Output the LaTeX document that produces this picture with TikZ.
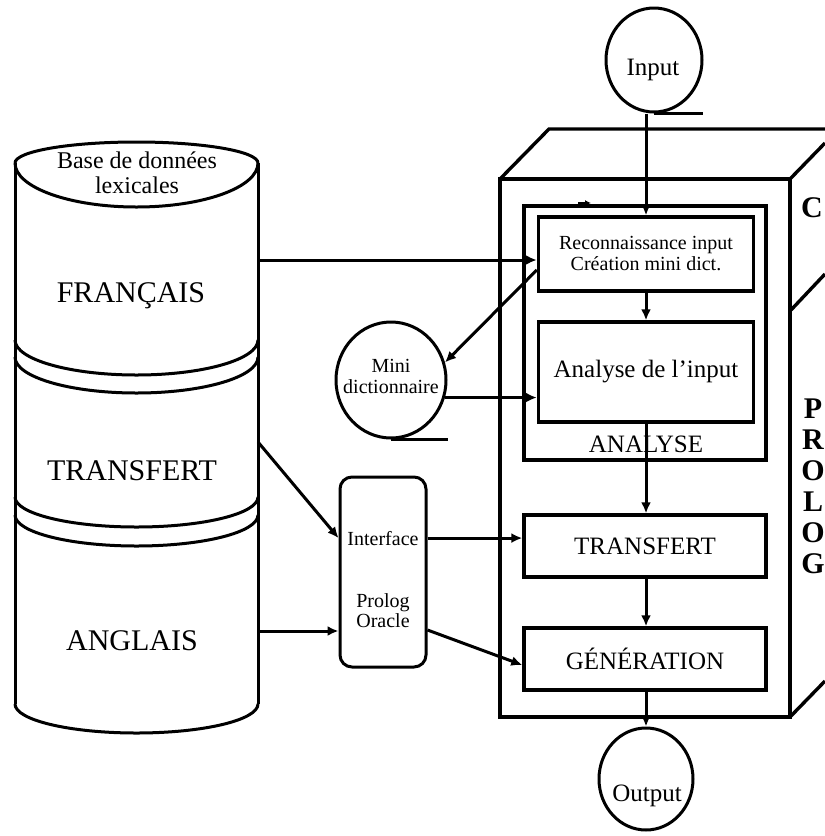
\documentclass[tikz,border=0pt]{standalone}
\usepackage{fontspec}
\setmainfont{Liberation Serif}
\usetikzlibrary{arrows.meta,shapes.geometric,calc}
\newcommand\fsz[2]{\fontsize{#1}{#2}\selectfont}
\tikzset{
  ln/.style={line width=3pt},
  arr/.style={line width=3pt,-{Latex[length=11pt,width=10pt]}},
  blk/.style={draw,line width=3.4pt,inner sep=0pt},
  circ/.style={draw,ellipse,line width=3pt,inner sep=0pt},
  txt/.style={inner sep=0pt},
}
\begin{document}
\begin{tikzpicture}[x=1pt,y=-1pt]
\useasboundingbox (0,0) rectangle (825,836);

% ---------- cylinder (lexical databases)
\draw[ln] (15,163) arc[start angle=180,end angle=360,x radius=121.5,y radius=21];
\draw[ln] (15,163) arc[start angle=180,end angle=0,x radius=121.5,y radius=44];
\draw[ln] (15,340) arc[start angle=180,end angle=0,x radius=121.5,y radius=35];
\draw[ln] (15,357) arc[start angle=180,end angle=0,x radius=121.5,y radius=36];
\draw[ln] (15,497) arc[start angle=180,end angle=0,x radius=121.5,y radius=30];
\draw[ln] (15,515) arc[start angle=180,end angle=0,x radius=121.5,y radius=31];
\draw[ln] (15,704) arc[start angle=180,end angle=0,x radius=121.5,y radius=29];
\draw[ln] (15,163) -- (15,704);
\draw[ln] (258,163) -- (258,704);
\node[txt,align=center,font=\fsz{24}{25}] (base) at (137,173) {Base de données\\lexicales};
\node[txt,anchor=base,font=\fsz{30}{31}] (fra) at (131,302) {FRANÇAIS};
\node[txt,anchor=base,font=\fsz{30}{31}] (trc) at (132,480) {TRANSFERT};
\node[txt,anchor=base,font=\fsz{30}{31}] (ang) at (132,650) {ANGLAIS};
\coordinate (fr) at (258,260);
\coordinate (tr) at (258,442);
\coordinate (an) at (258,631);

% ---------- 3D Prolog box
\draw[line width=3.4pt] (500,179) rectangle (790,717);
\draw[line width=3.4pt] (500,179) -- (549,129) -- (825,129);
\draw[line width=3.4pt] (790,179) -- (825,143);
\draw[line width=3.4pt] (791,310) -- (825,274);
\draw[line width=3.4pt] (790,717) -- (825,681);
\node[txt,anchor=base,font=\fsz{30}{31}\bfseries] (c) at (812,217) {C};
\node[txt,anchor=north,align=center,font=\fsz{30}{31}\bfseries] (prolog) at (813,399) {P\\R\\O\\L\\O\\G};

% ---------- ANALYSE block
\draw[line width=3.4pt] (524,206) rectangle (766,460);
\draw[line width=1.4pt,-{Latex[length=6pt,width=6pt]}] (578,203) -- (591,203);
\node[blk,minimum width=215pt,minimum height=74pt,align=center,font=\fsz{20}{21}] (recog) at (646,254) {Reconnaissance input\\Création mini dict.};
\node[blk,minimum width=215pt,minimum height=100pt,font=\fsz{25}{26}] (analyse) at (646,372) {Analyse de l’input};
\node[txt,anchor=base,font=\fsz{25}{26}] (alabel) at (646,452) {ANALYSE};

\node[blk,minimum width=242pt,minimum height=62pt,font=\fsz{25}{26}] (trans) at (645,546) {TRANSFERT};
\node[blk,minimum width=242pt,minimum height=62pt,font=\fsz{25}{26}] (gen) at (645,659) {GÉNÉRATION};

% ---------- circles
\node[circ,minimum width=96pt,minimum height=104pt] (input) at (654,60) {};
\node[txt,anchor=base,font=\fsz{25}{26}] (inputT) at (653,75) {Input};
\draw[ln] (input.south) -- ++(49,0);
\node[circ,minimum width=94pt,minimum height=102pt] (output) at (646,779) {};
\node[txt,anchor=base,font=\fsz{25}{26}] (outputT) at (647,801) {Output};
\node[circ,minimum width=110pt,minimum height=116pt] (mini) at (391,380) {};
\node[txt,align=center,font=\fsz{20}{21}] (miniT) at (391,376) {Mini\\dictionnaire};
\draw[ln] (mini.south) -- ++(57,0);

% ---------- interface
\node[draw,rounded corners=12pt,line width=3pt,minimum width=86pt,minimum height=190pt] (iface) at (383,572) {};
\node[txt,anchor=base,font=\fsz{20}{21}] (ifaceT) at (383,545) {Interface};
\node[txt,align=center,font=\fsz{20}{20}] (oracle) at (383,611) {Prolog\\Oracle};

% ---------- connectors
\draw[arr] (input.south -| recog.north) -- (recog.north);
\draw[arr] (recog.south) -- (analyse.north);
\draw[arr] (analyse.south) -- (analyse.south |- trans.north);
\draw[arr] (analyse.south |- trans.south) -- (analyse.south |- gen.north);
\draw[arr] (analyse.south |- gen.south) -- (analyse.south |- output.north);
\draw[arr] (fr) -- (recog.west |- fr);
\draw[arr] ([yshift=-16pt]recog.west) -- (mini.18);
\draw[arr] (mini.-18) -- (analyse.west |- mini.-18);
\draw[arr] (tr) -- (iface.west |- ifaceT);
\draw[arr] (an) -- (iface.west |- an);
\draw[arr] (iface.east |- ifaceT) -- (trans.west |- ifaceT);
\draw[arr] ([yshift=-58pt]iface.east) -- ([yshift=-6pt]gen.west);
\end{tikzpicture}
\end{document}
